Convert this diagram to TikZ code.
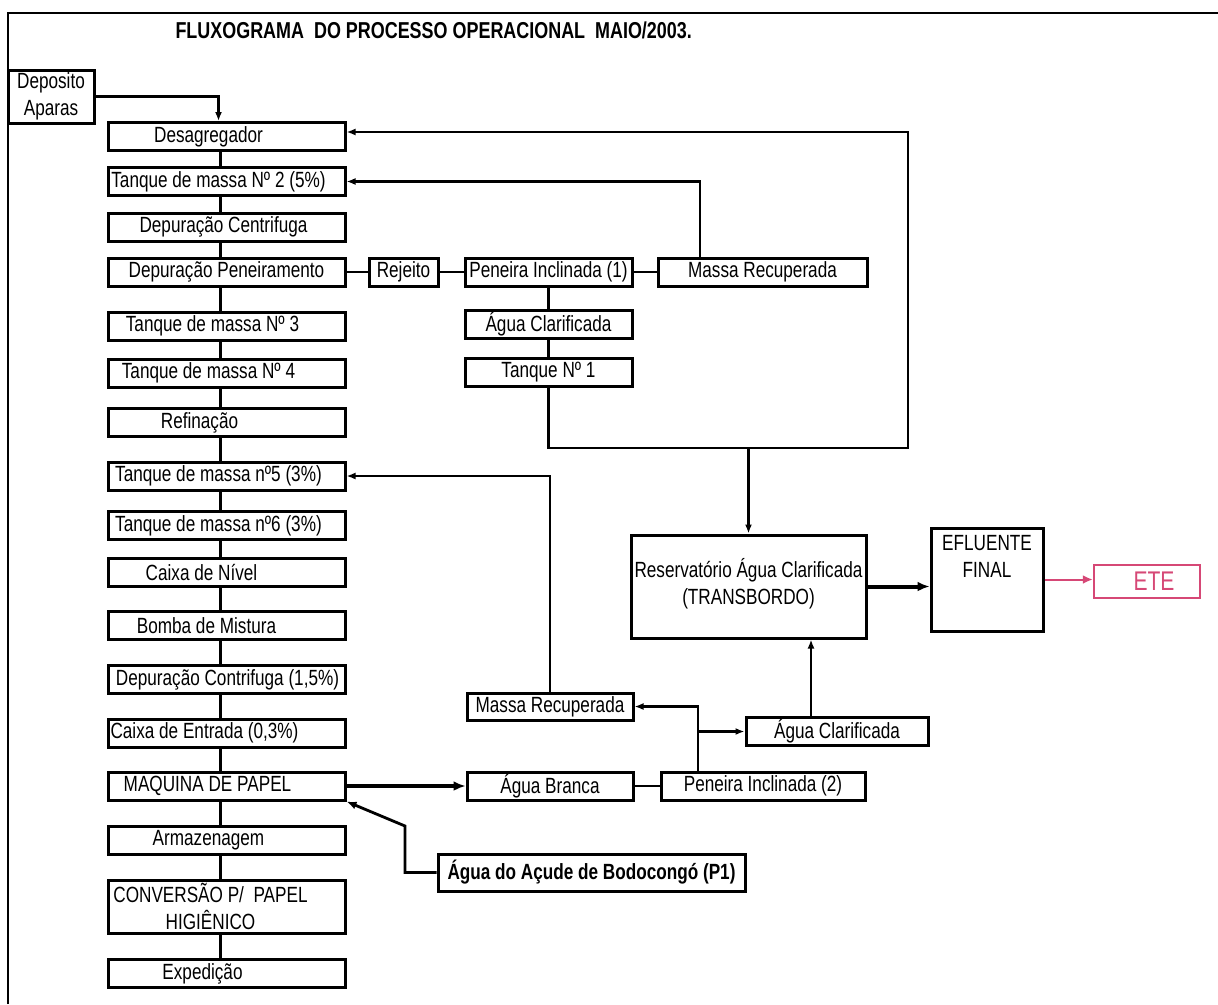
\documentclass[tikz,border=0pt]{standalone}
\usepackage{fontspec}
\setmainfont{Liberation Sans}[FakeStretch=0.78]
\usetikzlibrary{arrows.meta}

\begin{document}
\begin{tikzpicture}[x=1pt,y=-1pt,
    every node/.style={font=\fontsize{22}{27}\selectfont},
    procbox/.style={shape=rectangle,draw,line width=3pt,inner sep=0pt,minimum width=237pt,minimum height=28pt},
    sidebox/.style={shape=rectangle,draw,line width=3pt,inner sep=0pt,minimum height=28pt},
    link/.style={line width=2.2pt},
    flow/.style={line width=2.2pt,-{Latex[length=9pt,width=7pt]}},
    bigflow/.style={line width=4pt,-{Latex[length=12pt,width=10pt]}}]
    \definecolor{ete_pink}{RGB}{214,72,118}
    \useasboundingbox (0,0) rectangle (1218,1004);
    \draw[line width=1.8pt] (8,1004) -- (8,13) -- (1218,13);
    \node[anchor=west,font=\fontsize{23}{27}\selectfont\bfseries] (title) at (172,30) {FLUXOGRAMA\ \ DO PROCESSO OPERACIONAL\ \ MAIO/2003.};

    \node[sidebox,minimum width=86pt,minimum height=53pt,align=center] (depo) at (51,96.5) {Deposito\\Aparas};

    \node[procbox,label={[xshift=-18pt]center:Desagregador}] (desag) at (226.5,136.5) {};
    \node[procbox,label={[xshift=-8pt]center:Tanque de massa Nº 2 (5\%)}] (tq2) at (226.5,181.5) {};
    \node[procbox,label={[xshift=-3pt]center:Depuração Centrifuga}] (cent) at (226.5,227) {};
    \node[procbox,label={center:Depuração Peneiramento}] (pen) at (226.5,272) {};
    \node[procbox,label={[xshift=-14pt]center:Tanque de massa Nº 3}] (tq3) at (226.5,326) {};
    \node[procbox,label={[xshift=-18pt]center:Tanque de massa Nº 4}] (tq4) at (226.5,373) {};
    \node[procbox,label={[xshift=-27pt]center:Refinação}] (refin) at (226.5,422.5) {};
    \node[procbox,label={[xshift=-8pt]center:Tanque de massa nº5 (3\%)}] (tq5) at (226.5,476) {};
    \node[procbox,label={[xshift=-8pt]center:Tanque de massa nº6 (3\%)}] (tq6) at (226.5,525.5) {};
    \node[procbox,label={[xshift=-25pt]center:Caixa de Nível}] (nivel) at (226.5,572) {};
    \node[procbox,label={[xshift=-20pt]center:Bomba de Mistura}] (bomba) at (226.5,625.5) {};
    \node[procbox,label={[xshift=1pt]center:{Depuração Contrifuga (1,5\%)}}] (depc) at (226.5,679.5) {};
    \node[procbox,label={[xshift=-22pt]center:{Caixa de Entrada (0,3\%)}}] (entrada) at (226.5,733) {};
    \node[procbox,label={[xshift=-19pt]center:MAQUINA DE PAPEL}] (maq) at (226.5,786) {};
    \node[procbox,label={[xshift=-18pt]center:Armazenagem}] (armaz) at (226.5,840.5) {};
    \node[procbox,minimum height=53pt,label={[xshift=-16pt,align=center]center:CONVERSÃO P/\ \ PAPEL\\HIGIÊNICO}] (conv) at (226.5,906.5) {};
    \node[procbox,label={[xshift=-24pt]center:Expedição}] (exped) at (226.5,973.5) {};

    \node[sidebox,minimum width=69pt] (rejeito) at (403.5,272) {Rejeito};
    \node[sidebox,minimum width=167pt] (pen1) at (548.5,272) {Peneira Inclinada (1)};
    \node[sidebox,minimum width=209pt] (massa1) at (762.5,272) {Massa Recuperada};
    \node[sidebox,minimum width=167pt] (aguac1) at (548.5,324.5) {Água Clarificada};
    \node[sidebox,minimum width=167pt] (tanque1) at (548.5,372.5) {Tanque Nº 1};

    \node[sidebox,minimum width=235pt,minimum height=103pt,label={[align=center,yshift=3pt]center:Reservatório Água Clarificada\\(TRANSBORDO)}] (res) at (748.5,586.5) {};
    \node[sidebox,minimum width=112pt,minimum height=103pt,label={[align=center,yshift=23pt]center:EFLUENTE\\FINAL}] (eflu) at (987,579.5) {};
    \node[sidebox,draw=ete_pink,line width=2.4pt,minimum width=106pt,minimum height=33pt,label={[xshift=7pt,text=ete_pink,font=\fontsize{27}{30}\selectfont]center:ETE}] (ete) at (1147,581.5) {};

    \node[sidebox,minimum width=166pt,minimum height=27pt] (massa2) at (550,706.5) {Massa Recuperada};
    \node[sidebox,minimum width=182pt] (aguac2) at (837,731.5) {Água Clarificada};
    \node[sidebox,minimum width=166pt] (branca) at (550,786) {Água Branca};
    \node[sidebox,minimum width=204pt] (pen2) at (763,786) {Peneira Inclinada (2)};
    \node[sidebox,minimum width=307pt,minimum height=37pt,font=\fontsize{22}{27}\selectfont\bfseries] (acude) at (591.5,872.5) {Água do Açude de Bodocongó (P1)};

    \foreach \a/\b in {desag/tq2,tq2/cent,cent/pen,pen/tq3,tq3/tq4,tq4/refin,refin/tq5,tq5/tq6,tq6/nivel,nivel/bomba,bomba/depc,depc/entrada,entrada/maq,maq/armaz,armaz/conv,conv/exped}
        \draw[link] ([xshift=-6pt]\a.south) -- ([xshift=-6pt]\b.north);

    \draw[flow] (depo.east) -| ([xshift=-8pt]desag.north);

    \draw[link] (pen.east) -- (rejeito.west);
    \draw[link] (rejeito.east) -- (pen1.west);
    \draw[link] (pen1.east) -- (massa1.west);
    \draw[link] (pen1.south) -- (aguac1.north);
    \draw[link] (aguac1.south) -- (tanque1.north);
    \draw[flow] ([xshift=-62.5pt]massa1.north) |- (tq2.east);

    \coordinate (loopB) at (908,448);
    \coordinate (loopT) at (908,132);
    \draw[flow] (tanque1.south) |- (loopB) -- (loopT) -- ([yshift=4.5pt]desag.east);
    \draw[flow] (res.north |- loopB) -- (res.north);

    \draw[bigflow] (res.east) -- (res.east -| eflu.west);
    \draw[ete_pink,line width=2pt,-{Latex[length=10pt,width=9pt]}] (eflu.east) -- (eflu.east -| ete.west);

    \draw[bigflow] (maq.east) -- (branca.west);
    \draw[link] (branca.east) -- (pen2.west);
    \draw[flow] ([xshift=-65pt]pen2.north) |- (massa2.east);
    \coordinate (split) at (698,731.5);
    \draw[flow] (split) -- (aguac2.west);
    \draw[flow] ([xshift=-26pt]aguac2.north) -- ([xshift=-26pt]aguac2.north |- res.south);
    \draw[flow] (massa2.north) |- (tq5.east);

    \coordinate (bend) at (405,826);
    \draw[line width=2.8pt,-{Latex[length=10pt,width=8pt]}] (acude.west) -| (bend) -- (maq.south east);
\end{tikzpicture}
\end{document}
